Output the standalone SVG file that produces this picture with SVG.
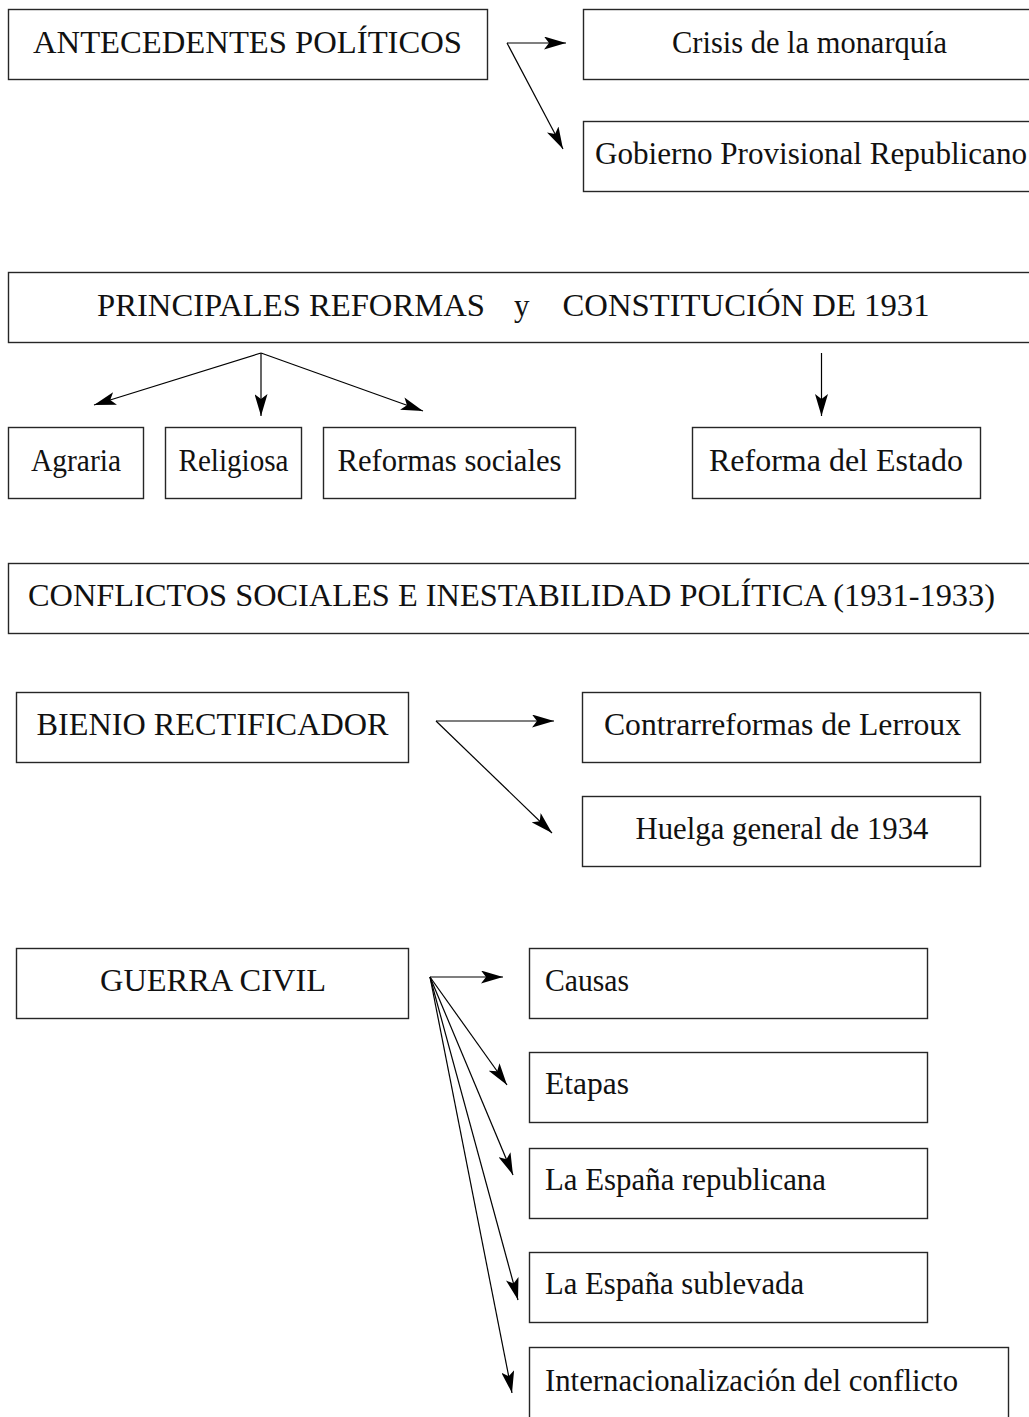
<svg xmlns="http://www.w3.org/2000/svg" width="1029" height="1417" viewBox="0 0 1029 1417">
  <style>
    .box { fill: #ffffff; stroke: #262626; stroke-width: 1.4; }
    .lbl { font-family: "Liberation Serif", "DejaVu Serif", serif; font-size: 31px; fill: #111111; }
    .mid { text-anchor: middle; }
    .link { fill: none; stroke: #000000; stroke-width: 1.2; marker-end: url(#head); }
  </style>
  <defs>
    <marker id="head" markerUnits="userSpaceOnUse" viewBox="0 0 22 13" refX="22" refY="6.5" markerWidth="22" markerHeight="13" orient="auto">
      <path d="M0,0 L22,6.5 L0,13 L5,6.5 Z" fill="#000000"/>
    </marker>
  </defs>
  <rect width="1029" height="1417" fill="#ffffff"/>

  <!-- Section 1: antecedentes -->
  <g id="n-antecedentes">
    <rect class="box" x="8.5" y="9.5" width="479" height="70"/>
    <text class="lbl mid" x="247.5" y="53" textLength="429" lengthAdjust="spacingAndGlyphs">ANTECEDENTES POLÍTICOS</text>
  </g>
  <g id="n-crisis">
    <rect class="box" x="583.5" y="9.5" width="460" height="70"/>
    <text class="lbl" x="672" y="53" textLength="275" lengthAdjust="spacingAndGlyphs">Crisis de la monarquía</text>
  </g>
  <g id="n-gobierno">
    <rect class="box" x="583.5" y="121.5" width="460" height="70"/>
    <text class="lbl" x="595" y="164" textLength="432" lengthAdjust="spacingAndGlyphs">Gobierno Provisional Republicano</text>
  </g>

  <!-- Section 2: reformas -->
  <g id="n-reformas">
    <rect class="box" x="8.5" y="272.5" width="1035" height="70"/>
    <text class="lbl" x="97" y="316" textLength="388" lengthAdjust="spacingAndGlyphs">PRINCIPALES REFORMAS</text>
    <text class="lbl" x="514" y="316">y</text>
    <text class="lbl" x="562.5" y="316" textLength="367" lengthAdjust="spacingAndGlyphs">CONSTITUCIÓN DE 1931</text>
  </g>
  <g id="n-agraria">
    <rect class="box" x="8.5" y="427.5" width="135" height="71"/>
    <text class="lbl mid" x="76" y="471" textLength="90" lengthAdjust="spacingAndGlyphs">Agraria</text>
  </g>
  <g id="n-religiosa">
    <rect class="box" x="165.5" y="427.5" width="136" height="71"/>
    <text class="lbl mid" x="233.5" y="471" textLength="110" lengthAdjust="spacingAndGlyphs">Religiosa</text>
  </g>
  <g id="n-sociales">
    <rect class="box" x="323.5" y="427.5" width="252" height="71"/>
    <text class="lbl mid" x="449.5" y="471" textLength="224" lengthAdjust="spacingAndGlyphs">Reformas sociales</text>
  </g>
  <g id="n-estado">
    <rect class="box" x="692.5" y="427.5" width="288" height="71"/>
    <text class="lbl mid" x="836" y="471" textLength="254" lengthAdjust="spacingAndGlyphs">Reforma del Estado</text>
  </g>

  <!-- Section 3: conflictos -->
  <g id="n-conflictos">
    <rect class="box" x="8.5" y="563.5" width="1035" height="70"/>
    <text class="lbl" x="28" y="606" textLength="967" lengthAdjust="spacingAndGlyphs">CONFLICTOS SOCIALES E INESTABILIDAD POLÍTICA (1931-1933)</text>
  </g>

  <!-- Section 4: bienio -->
  <g id="n-bienio">
    <rect class="box" x="16.5" y="692.5" width="392" height="70"/>
    <text class="lbl mid" x="212.5" y="735" textLength="352" lengthAdjust="spacingAndGlyphs">BIENIO RECTIFICADOR</text>
  </g>
  <g id="n-contrarreformas">
    <rect class="box" x="582.5" y="692.5" width="398" height="70"/>
    <text class="lbl mid" x="782.5" y="735" textLength="357" lengthAdjust="spacingAndGlyphs">Contrarreformas de Lerroux</text>
  </g>
  <g id="n-huelga">
    <rect class="box" x="582.5" y="796.5" width="398" height="70"/>
    <text class="lbl mid" x="782" y="839" textLength="293" lengthAdjust="spacingAndGlyphs">Huelga general de 1934</text>
  </g>

  <!-- Section 5: guerra civil -->
  <g id="n-guerra">
    <rect class="box" x="16.5" y="948.5" width="392" height="70"/>
    <text class="lbl mid" x="213" y="991" textLength="226" lengthAdjust="spacingAndGlyphs">GUERRA CIVIL</text>
  </g>
  <g id="n-causas">
    <rect class="box" x="529.5" y="948.5" width="398" height="70"/>
    <text class="lbl" x="545" y="991" textLength="84" lengthAdjust="spacingAndGlyphs">Causas</text>
  </g>
  <g id="n-etapas">
    <rect class="box" x="529.5" y="1052.5" width="398" height="70"/>
    <text class="lbl" x="545" y="1094" textLength="84" lengthAdjust="spacingAndGlyphs">Etapas</text>
  </g>
  <g id="n-republicana">
    <rect class="box" x="529.5" y="1148.5" width="398" height="70"/>
    <text class="lbl" x="545" y="1190" textLength="281" lengthAdjust="spacingAndGlyphs">La España republicana</text>
  </g>
  <g id="n-sublevada">
    <rect class="box" x="529.5" y="1252.5" width="398" height="70"/>
    <text class="lbl" x="545" y="1294" textLength="259" lengthAdjust="spacingAndGlyphs">La España sublevada</text>
  </g>
  <g id="n-internacional">
    <rect class="box" x="529.5" y="1347.5" width="479" height="90"/>
    <text class="lbl" x="545" y="1391" textLength="413" lengthAdjust="spacingAndGlyphs">Internacionalización del conflicto</text>
  </g>

  <!-- Connectors -->
  <g id="connectors">
    <path class="link" d="M507,43 L566,43"/>
    <path class="link" d="M507,43 L563,149"/>

    <path class="link" d="M261,353 L94,405"/>
    <path class="link" d="M261,353 L261,416"/>
    <path class="link" d="M261,353 L423,411"/>
    <path class="link" d="M821.5,353 L821.5,416"/>

    <path class="link" d="M436,721 L554,721"/>
    <path class="link" d="M436,721 L552,833"/>

    <path class="link" d="M430,977 L503,977"/>
    <path class="link" d="M430,977 L507,1085"/>
    <path class="link" d="M430,977 L513,1175"/>
    <path class="link" d="M430,977 L518,1300"/>
    <path class="link" d="M430,977 L512,1393"/>
  </g>
</svg>
